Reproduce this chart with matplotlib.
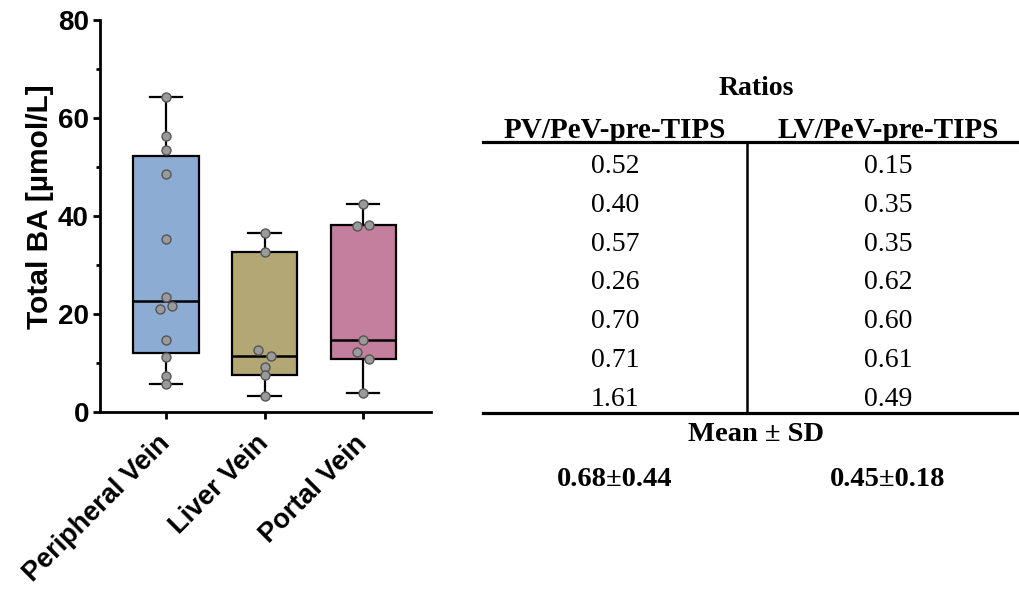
import numpy as np
import matplotlib.pyplot as plt
from matplotlib.lines import Line2D

# dados
groups = ["Peripheral Vein", "Liver Vein", "Portal Vein"]
peripheral = [64.2, 56.4, 53.5, 48.6, 35.4, 23.5, 21.0, 21.7, 14.7, 11.2, 7.3, 5.7]
liver = [36.5, 32.6, 12.6, 11.5, 9.1, 7.5, 3.2]
portal = [42.5, 38.0, 38.2, 14.6, 12.3, 10.9, 3.8]
box_colors = ["#8DACD4", "#B3A775", "#C47E9E"]

# tabela de razoes
table_title = "Ratios"
col_headers = ["PV/PeV-pre-TIPS", "LV/PeV-pre-TIPS"]
pv_ratios = ["0.52", "0.40", "0.57", "0.26", "0.70", "0.71", "1.61"]
lv_ratios = ["0.15", "0.35", "0.35", "0.62", "0.60", "0.61", "0.49"]
summary_title = "Mean ± SD"
summary_vals = ["0.68±0.44", "0.45±0.18"]

sans = "Liberation Sans"
serif = "Liberation Serif"


def swarm_offsets(vals, gap=1.5, d=0.062):
    vals = np.asarray(vals)
    order = np.argsort(vals, kind="stable")
    offs = np.zeros(len(vals))
    i = 0
    while i < len(vals):
        j = i
        while j + 1 < len(vals) and vals[order[j + 1]] - vals[order[j]] < gap:
            j += 1
        cluster = np.sort(order[i:j + 1])
        if len(cluster) > 1:
            offs[cluster] = np.linspace(-d, d, len(cluster))
        i = j + 1
    return offs


fig = plt.figure(figsize=(10.19, 5.96), dpi=100)
ax = fig.add_axes([100 / 1019, 1 - 412 / 596, 331 / 1019, 392 / 596])

data = [peripheral, liver, portal]
stats = []
for name, vals in zip(groups, data):
    q1, med, q3 = np.percentile(vals, [25, 50, 75], method="weibull")
    stats.append(dict(label=name, med=med, q1=q1, q3=q3,
                      whislo=min(vals), whishi=max(vals), fliers=[]))

bp = ax.bxp(stats, positions=range(len(groups)), widths=0.66, patch_artist=True,
            showfliers=False,
            boxprops=dict(linewidth=1.6, edgecolor="black"),
            medianprops=dict(color="black", linewidth=1.8),
            whiskerprops=dict(color="black", linewidth=1.6),
            capprops=dict(color="black", linewidth=1.6),
            capwidths=0.33)
for patch, c in zip(bp["boxes"], box_colors):
    patch.set_facecolor(c)

for i, vals in enumerate(data):
    x = i + swarm_offsets(vals)
    ax.scatter(x, vals, s=42, facecolor="#9A9A9A", edgecolor="#555555",
               linewidth=1.0, zorder=5)

ax.set_xlim(-0.67, 2.69)
ax.set_ylim(0, 80)
ax.set_yticks([0, 20, 40, 60, 80])
ax.set_yticks([10, 30, 50, 70], minor=True)
ax.set_xticks(range(len(groups)))
ax.set_xticklabels(groups, rotation=45, ha="right", va="center",
                   rotation_mode="anchor",
                   fontsize=19.5, fontweight="bold", family=sans)
for lab in ax.get_yticklabels():
    lab.set_fontsize(20)
    lab.set_fontweight("bold")
    lab.set_family(sans)
ax.set_ylabel("Total BA [µmol/L]", fontsize=21.5, fontweight="bold", family=sans)
ax.yaxis.set_label_coords(-0.14, 0.524)
for s in ["top", "right"]:
    ax.spines[s].set_visible(False)
for s in ["left", "bottom"]:
    ax.spines[s].set_linewidth(2)
ax.tick_params(which="major", length=5, width=2)
ax.tick_params(axis="y", which="major", pad=3)
ax.tick_params(axis="x", which="major", pad=15)
ax.tick_params(which="minor", length=3, width=2)
ax.tick_params(axis="x", which="minor", bottom=False)

# tabela desenhada em coordenadas de pixel
tx = fig.add_axes([0, 0, 1, 1])
tx.set_xlim(0, 1019)
tx.set_ylim(596, 0)
tx.axis("off")

col_x = [615, 888]
mid_x = 747
tx.text(756, 95, table_title, ha="center", va="baseline", fontsize=20,
        fontweight="bold", family=serif)
for cx, h in zip(col_x, col_headers):
    tx.text(cx, 138.5, h, ha="center", va="baseline", fontsize=21,
            fontweight="bold", family=serif)
row_y = 173 + 38.8 * np.arange(len(pv_ratios))
for y, a, b in zip(row_y, pv_ratios, lv_ratios):
    tx.text(col_x[0], y, a, ha="center", va="baseline", fontsize=20, family=serif)
    tx.text(col_x[1], y, b, ha="center", va="baseline", fontsize=20, family=serif)
tx.add_line(Line2D([483, 1019], [142, 142], color="black", linewidth=2.3))
tx.add_line(Line2D([483, 1019], [413, 413], color="black", linewidth=2.3))
tx.add_line(Line2D([mid_x, mid_x], [142, 413], color="black", linewidth=1.8))
tx.text(756.5, 441, summary_title, ha="center", va="baseline", fontsize=20.5,
        fontweight="bold", family=serif)
for cx, v in zip(col_x, summary_vals):
    tx.text(cx, 486, v, ha="center", va="baseline", fontsize=20.5,
            fontweight="bold", family=serif)

fig.savefig("out.png", dpi=100)
